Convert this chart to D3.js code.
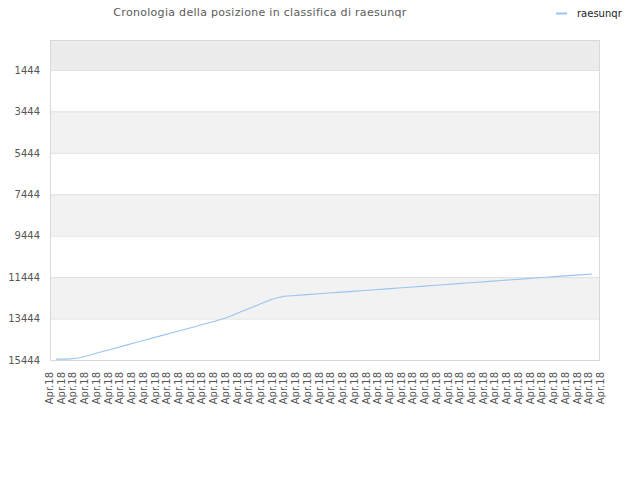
<!DOCTYPE html>
<html>
<head>
<meta charset="utf-8">
<script src="https://cdn.jsdelivr.net/npm/d3@7"></script>
<style>
  body { margin: 0; background: #fff; }
  text { font-family: "DejaVu Sans", sans-serif; }
</style>
</head>
<body>
<div id="chart-area"></div>
<script>
// position history, one value per category
const positions = [
  15400, 15400, 15350, 15200, 15050, 14900, 14750, 14600, 14455, 14305,
  14155, 14005, 13860, 13710, 13560, 13390, 13165, 12945, 12720, 12500,
  12370, 12330, 12290, 12250, 12210, 12170, 12130, 12090, 12050, 12010,
  11970, 11930, 11890, 11850, 11810, 11770, 11730, 11690, 11650, 11610,
  11570, 11530, 11490, 11450, 11410, 11370, 11335, 11295
]
const labels = positions.map(() => "Apr.18")
const yTicks = [1444, 3444, 5444, 7444, 9444, 11444, 13444, 15444]
const seriesName = "raesunqr"
const title = "Cronologia della posizione in classifica di raesunqr"

const MARGIN = { LEFT: 51, RIGHT: 40, TOP: 40, BOTTOM: 120 }
const WIDTH = 640 - MARGIN.LEFT - MARGIN.RIGHT
const HEIGHT = 480 - MARGIN.TOP - MARGIN.BOTTOM

const svg = d3.select("#chart-area").append("svg")
  .attr("width", 640)
  .attr("height", 480)

const g = svg.append("g")
  .attr("transform", `translate(${MARGIN.LEFT}, ${MARGIN.TOP})`)

const y = d3.scaleLinear()
  .domain([0, 15444])
  .range([0, HEIGHT])

const x = d3.scalePoint()
  .domain(d3.range(positions.length))
  .range([5, 541])

const xLab = d3.scalePoint()
  .domain(d3.range(labels.length))
  .range([-2, 549])

// bands
const bands = [[0, yTicks[0], "#ececec"]]
for (let i = 1; i < yTicks.length - 1; i += 2) {
  bands.push([yTicks[i], yTicks[i + 1], "#f2f2f2"])
}
g.selectAll("rect.band")
  .data(bands)
  .enter().append("rect")
  .attr("class", "band")
  .attr("x", 0)
  .attr("width", WIDTH)
  .attr("y", d => y(d[0]))
  .attr("height", d => y(d[1]) - y(d[0]))
  .attr("fill", d => d[2])

// grid lines
g.selectAll("line.grid")
  .data(yTicks)
  .enter().append("line")
  .attr("class", "grid")
  .attr("x1", 0)
  .attr("x2", WIDTH)
  .attr("y1", d => y(d) + 0.5)
  .attr("y2", d => y(d) + 0.5)
  .attr("stroke", "#e0e0e0")

// plot border
g.append("rect")
  .attr("x", -0.5)
  .attr("y", 0.5)
  .attr("width", WIDTH)
  .attr("height", HEIGHT)
  .attr("fill", "none")
  .attr("stroke", "#d8d8d8")

// Y axis
const yAxisCall = d3.axisLeft(y)
  .tickValues(yTicks)
  .tickSize(0)
  .tickPadding(11)
  .tickFormat(d => d)
const yAxis = g.append("g").call(yAxisCall)
yAxis.select(".domain").remove()
yAxis.selectAll("text")
  .attr("fill", "#555")
  .style("font-size", "10px")

// X axis
const xAxisCall = d3.axisBottom(xLab)
  .tickSize(0)
  .tickFormat(i => labels[i])
const xAxis = g.append("g")
  .attr("transform", `translate(0, ${HEIGHT})`)
  .call(xAxisCall)
xAxis.select(".domain").remove()
xAxis.selectAll("text")
  .attr("transform", "rotate(-90)")
  .attr("text-anchor", "end")
  .attr("x", -12)
  .attr("y", 0)
  .attr("dy", "0.35em")
  .attr("fill", "#555")
  .style("font-size", "10px")

// line
const line = d3.line()
  .x((d, i) => x(i))
  .y(d => y(d))
g.append("path")
  .datum(positions)
  .attr("d", line)
  .attr("fill", "none")
  .attr("stroke", "#99c3f2")
  .attr("stroke-width", 1.1)

// title
svg.append("text")
  .attr("x", 260)
  .attr("y", 16)
  .attr("text-anchor", "middle")
  .attr("fill", "#5a5a5a")
  .style("font-size", "11px")
  .style("letter-spacing", "0.3px")
  .text(title)

// legend
svg.append("line")
  .attr("x1", 556)
  .attr("x2", 567)
  .attr("y1", 13.5)
  .attr("y2", 13.5)
  .attr("stroke", "#99c3f2")
  .attr("stroke-width", 2)
svg.append("text")
  .attr("x", 577)
  .attr("y", 17)
  .attr("fill", "#222")
  .style("font-size", "10px")
  .text(seriesName)
</script>
</body>
</html>
